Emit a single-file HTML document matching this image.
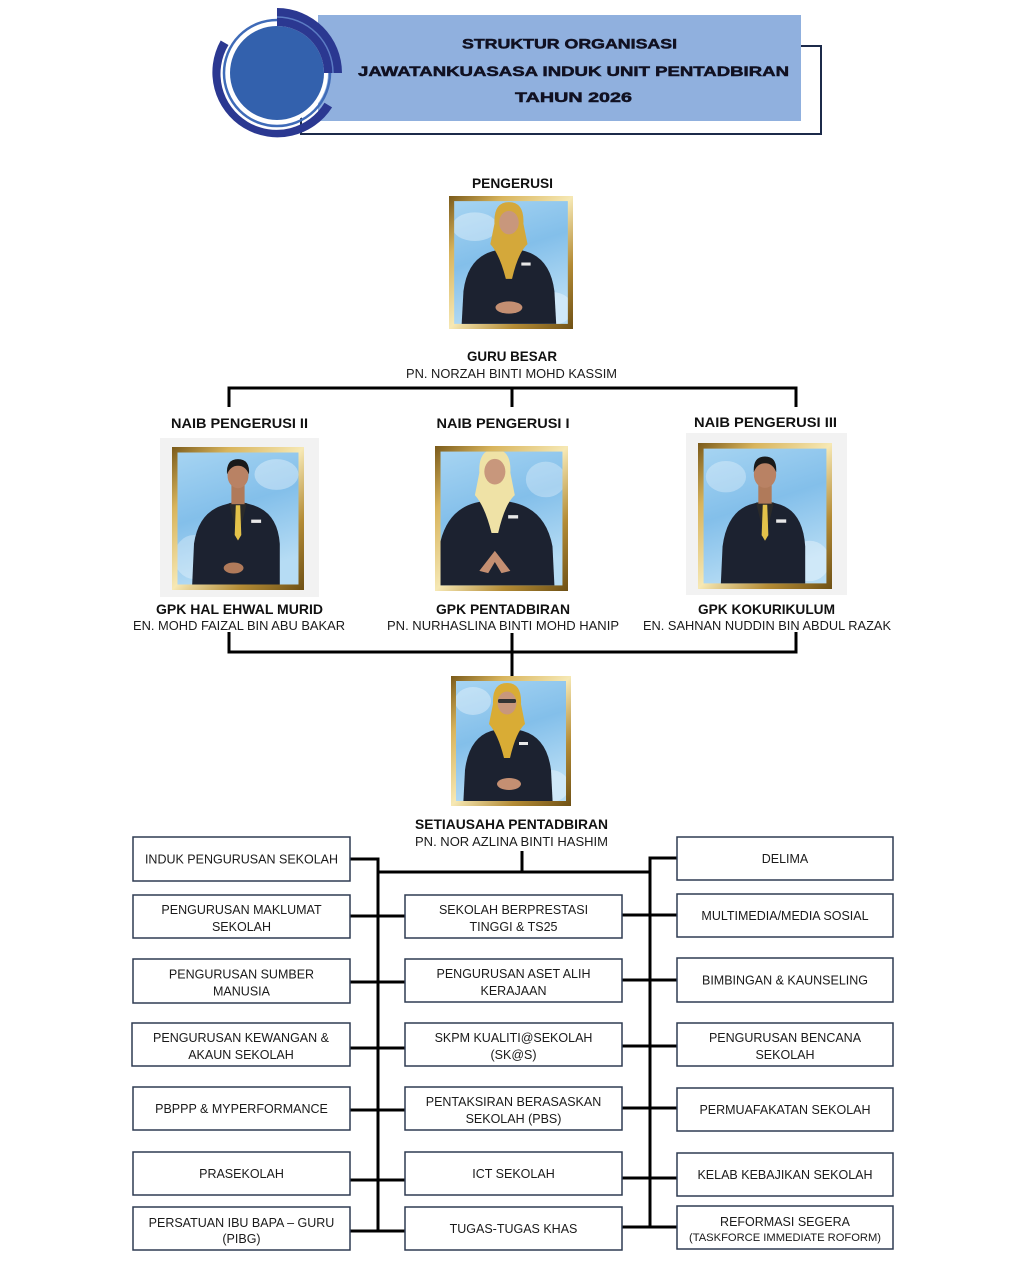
<!DOCTYPE html>
<html><head><meta charset="utf-8">
<style>html,body{margin:0;padding:0;background:#fff;}svg{display:block}</style>
</head><body>
<svg width="1024" height="1286" viewBox="0 0 1024 1286" xmlns="http://www.w3.org/2000/svg" font-family="'Liberation Sans', Arial, sans-serif">
<defs>
<linearGradient id="gold" x1="0" y1="0" x2="1" y2="1">
<stop offset="0" stop-color="#7a5a1a"/><stop offset="0.22" stop-color="#d8b45c"/><stop offset="0.5" stop-color="#f6e8b4"/><stop offset="0.75" stop-color="#b38b35"/><stop offset="1" stop-color="#6e5015"/>
</linearGradient>
<linearGradient id="sky" x1="0" y1="0" x2="0.3" y2="1">
<stop offset="0" stop-color="#a6d4f2"/><stop offset="0.5" stop-color="#83bfea"/><stop offset="1" stop-color="#b6dcf4"/>
</linearGradient>
<clipPath id="inner"><rect x="5" y="5" width="110" height="120"/></clipPath>
</defs>

<!-- HEADER -->
<rect x="301" y="46" width="520" height="88" fill="none" stroke="#1c2a4a" stroke-width="2"/>
<rect x="318" y="15" width="483" height="106" fill="#90b0de"/>
<circle cx="277" cy="73" r="51" fill="#fff"/>
<circle cx="277" cy="73" r="53" fill="none" stroke="#3f6bb8" stroke-width="2.5"/>
<circle cx="277" cy="73" r="47" fill="#3361ad"/>
<path d="M277 8 A65 65 0 0 1 342 73 L324 73 A47 47 0 0 0 277 26 Z" fill="#2b3891"/>
<path d="M277 17 A56 56 0 0 1 333 73" fill="none" stroke="#5c7cc4" stroke-width="1.5"/>
<path d="M332.1 107.4 A65 65 0 0 1 220.7 40.5 L228.5 45 A56 56 0 0 0 324.5 102.7 Z" fill="#2b3891"/>
<g font-weight="bold" font-size="14" fill="#111122" stroke="#111122" stroke-width="0.5">
<text x="462" y="48.5" textLength="215" lengthAdjust="spacingAndGlyphs">STRUKTUR ORGANISASI</text>
<text x="358" y="76" textLength="431" lengthAdjust="spacingAndGlyphs">JAWATANKUASASA INDUK UNIT PENTADBIRAN</text>
<text x="515" y="102" textLength="117" lengthAdjust="spacingAndGlyphs">TAHUN 2026</text>
</g>

<!-- CONNECTORS TOP -->
<g stroke="#000" stroke-width="3" fill="none">
<path d="M229 407 L229 388 L796 388 L796 407"/>
<path d="M512 388 L512 407"/>
<path d="M229 632 L229 652 L796 652 L796 632"/>
<path d="M512 633 L512 676"/>
<path d="M522 851 L522 872"/>
<path d="M378 872 L650 872"/>
<path d="M350 859 L378 859 L378 1232.5"/>
<path d="M677 858 L650 858 L650 1228.5"/>
<path d="M350 916 L405 916"/>
<path d="M350 982 L405 982"/>
<path d="M350 1048 L405 1048"/>
<path d="M350 1110 L405 1110"/>
<path d="M350 1180 L405 1180"/>
<path d="M350 1231 L405 1231"/>
<path d="M622 915 L677 915"/>
<path d="M622 980 L677 980"/>
<path d="M622 1046 L677 1046"/>
<path d="M622 1108 L677 1108"/>
<path d="M622 1178 L677 1178"/>
<path d="M622 1227 L677 1227"/>
</g>

<!-- HEADINGS -->
<g font-weight="bold" font-size="14" fill="#111" text-anchor="middle">
<text x="512.5" y="188" textLength="81" lengthAdjust="spacingAndGlyphs">PENGERUSI</text>
<text x="512" y="361" textLength="90" lengthAdjust="spacingAndGlyphs">GURU BESAR</text>
<text x="239.5" y="428" textLength="137" lengthAdjust="spacingAndGlyphs">NAIB PENGERUSI II</text>
<text x="503" y="428" textLength="133" lengthAdjust="spacingAndGlyphs">NAIB PENGERUSI I</text>
<text x="765.5" y="427" textLength="143" lengthAdjust="spacingAndGlyphs">NAIB PENGERUSI III</text>
<text x="239.5" y="614" textLength="167" lengthAdjust="spacingAndGlyphs">GPK HAL EHWAL MURID</text>
<text x="503" y="614" textLength="134" lengthAdjust="spacingAndGlyphs">GPK PENTADBIRAN</text>
<text x="766.5" y="614" textLength="137" lengthAdjust="spacingAndGlyphs">GPK KOKURIKULUM</text>
<text x="511.5" y="829" textLength="193" lengthAdjust="spacingAndGlyphs">SETIAUSAHA PENTADBIRAN</text>
</g>
<g font-size="13" fill="#1a1a1a" text-anchor="middle">
<text x="511.5" y="378" textLength="211" lengthAdjust="spacingAndGlyphs">PN. NORZAH BINTI MOHD KASSIM</text>
<text x="239" y="630" textLength="212" lengthAdjust="spacingAndGlyphs">EN. MOHD FAIZAL BIN ABU BAKAR</text>
<text x="503" y="630" textLength="232" lengthAdjust="spacingAndGlyphs">PN. NURHASLINA BINTI MOHD HANIP</text>
<text x="767" y="630" textLength="248" lengthAdjust="spacingAndGlyphs">EN. SAHNAN NUDDIN BIN ABDUL RAZAK</text>
<text x="511.5" y="846" textLength="193" lengthAdjust="spacingAndGlyphs">PN. NOR AZLINA BINTI HASHIM</text>
</g>

<!-- PHOTO BACKGROUNDS -->
<rect x="160" y="438" width="159" height="159" fill="#f2f2f2"/>
<rect x="686" y="433" width="161" height="162" fill="#f2f2f2"/>

<!-- PHOTO 1 : PENGERUSI -->
<svg x="449" y="196" width="124" height="133" viewBox="0 0 120 130" preserveAspectRatio="none">
<rect x="0" y="0" width="120" height="130" fill="url(#gold)"/>
<rect x="5" y="5" width="110" height="120" fill="url(#sky)"/>
<g clip-path="url(#inner)">
<ellipse cx="25" cy="30" rx="22" ry="14" fill="#fff" opacity="0.35"/>
<ellipse cx="100" cy="110" rx="20" ry="16" fill="#fff" opacity="0.35"/>
<g transform="translate(0,-3)">
<path d="M12 133 L14 96 Q18 64 42 57 L58 53 L74 57 Q98 64 102 96 L104 133 Z" fill="#1c2230"/>
<path d="M44 30 Q43 9 58 9 Q73 9 72 30 L76 50 Q67 58 61 84 L55 84 Q49 60 40 50 Z" fill="#d4a83a"/>
<ellipse cx="58" cy="29" rx="9.5" ry="11.5" fill="#c8977c"/>
<rect x="70" y="68" width="9" height="3" fill="#e8e8e8"/>
<ellipse cx="58" cy="112" rx="13" ry="6" fill="#c48f72"/>
</g></g>
</svg>

<!-- PHOTO 2 : LEFT MAN -->
<svg x="172" y="447" width="132" height="143" viewBox="0 0 120 130" preserveAspectRatio="none">
<rect x="0" y="0" width="120" height="130" fill="url(#gold)"/>
<rect x="5" y="5" width="110" height="120" fill="url(#sky)"/>
<g clip-path="url(#inner)">
<ellipse cx="95" cy="25" rx="20" ry="14" fill="#fff" opacity="0.35"/>
<ellipse cx="20" cy="100" rx="18" ry="20" fill="#fff" opacity="0.3"/>
<g transform="translate(0,-2)">
<path d="M18 135 L20 90 Q24 62 46 55 L60 51 L74 55 Q96 62 98 90 L98 135 Z" fill="#1c2230"/>
<path d="M52 53 L60 86 L68 53 Z" fill="#2a2a2a"/>
<rect x="54" y="36" width="12" height="18" fill="#b07a5a"/>
<path d="M58 55 L62 55 L63 82 L60 87 L57 82 Z" fill="#e3c24a"/>
<ellipse cx="60" cy="28" rx="9.5" ry="11.5" fill="#b98264"/>
<path d="M50 27 Q49 13 60 13 Q71 13 70 27 Q67 19 60 19 Q53 19 50 27 Z" fill="#1a1a1a"/>
<rect x="72" y="68" width="9" height="3" fill="#e8e8e8"/>
<ellipse cx="56" cy="112" rx="9" ry="5" fill="#b07a5a"/>
</g></g>
</svg>

<!-- PHOTO 3 : MIDDLE WOMAN -->
<svg x="435" y="446" width="133" height="145" viewBox="0 0 120 130" preserveAspectRatio="none">
<rect x="0" y="0" width="120" height="130" fill="url(#gold)"/>
<rect x="5" y="5" width="110" height="120" fill="url(#sky)"/>
<g clip-path="url(#inner)">
<ellipse cx="100" cy="30" rx="18" ry="16" fill="#fff" opacity="0.3"/>
<ellipse cx="15" cy="110" rx="16" ry="16" fill="#fff" opacity="0.35"/>
<g transform="translate(-4,-6)">
<path d="M6 136 L8 96 Q14 64 40 57 L58 53 L76 57 Q104 64 110 96 L112 136 Z" fill="#1c2230"/>
<path d="M44 30 Q43 9 58 9 Q73 9 72 30 L76 50 Q67 58 61 84 L55 84 Q49 60 40 50 Z" fill="#efe2a6"/>
<ellipse cx="58" cy="29" rx="9.5" ry="11.5" fill="#c8977c"/>
<rect x="70" y="68" width="9" height="3" fill="#e8e8e8"/>
<path d="M44 118 L58 100 L72 118 L64 120 L58 110 L52 120 Z" fill="#c48f72"/>
</g></g>
</svg>

<!-- PHOTO 4 : RIGHT MAN -->
<svg x="698" y="443" width="134" height="146" viewBox="0 0 120 130" preserveAspectRatio="none">
<rect x="0" y="0" width="120" height="130" fill="url(#gold)"/>
<rect x="5" y="5" width="110" height="120" fill="url(#sky)"/>
<g clip-path="url(#inner)">
<ellipse cx="25" cy="30" rx="18" ry="14" fill="#fff" opacity="0.3"/>
<ellipse cx="100" cy="105" rx="18" ry="18" fill="#fff" opacity="0.35"/>
<g transform="translate(0,0)">
<path d="M20 135 L22 92 Q26 62 46 55 L60 51 L74 55 Q94 62 96 92 L96 135 Z" fill="#1c2230"/>
<path d="M52 53 L60 86 L68 53 Z" fill="#2a2a2a"/>
<rect x="54" y="36" width="12" height="18" fill="#b07a5a"/>
<path d="M58 55 L62 55 L63 82 L60 87 L57 82 Z" fill="#e3c24a"/>
<ellipse cx="60" cy="28" rx="10" ry="12" fill="#b98264"/>
<path d="M50 26 Q49 12 60 12 Q71 12 70 26 Q67 18 60 18 Q53 18 50 26 Z" fill="#1a1a1a"/>
<rect x="70" y="68" width="9" height="3" fill="#e8e8e8"/>
</g></g>
</svg>

<!-- PHOTO 5 : SETIAUSAHA -->
<svg x="451" y="676" width="120" height="130" viewBox="0 0 120 130" preserveAspectRatio="none">
<rect x="0" y="0" width="120" height="130" fill="url(#gold)"/>
<rect x="5" y="5" width="110" height="120" fill="url(#sky)"/>
<g clip-path="url(#inner)">
<ellipse cx="22" cy="25" rx="18" ry="14" fill="#fff" opacity="0.35"/>
<ellipse cx="100" cy="110" rx="18" ry="16" fill="#fff" opacity="0.35"/>
<g transform="translate(-2,-2)">
<path d="M14 135 L16 96 Q20 64 42 57 L58 53 L74 57 Q98 64 102 96 L104 135 Z" fill="#1c2230"/>
<path d="M44 30 Q43 9 58 9 Q73 9 72 30 L76 50 Q67 58 61 84 L55 84 Q49 60 40 50 Z" fill="#d9ac35"/>
<ellipse cx="58" cy="29" rx="9.5" ry="11.5" fill="#c8977c"/>
<rect x="49" y="25" width="18" height="4" rx="1.5" fill="#333"/>
<rect x="70" y="68" width="9" height="3" fill="#e8e8e8"/>
<ellipse cx="60" cy="110" rx="12" ry="6" fill="#c48f72"/>
</g></g>
</svg>

<!-- BOXES -->
<g fill="#fff" stroke="#2f3b52" stroke-width="1.5">
<rect x="133" y="837" width="217" height="44"/>
<rect x="133" y="895" width="217" height="43"/>
<rect x="133" y="959" width="217" height="44"/>
<rect x="132" y="1023" width="218" height="43"/>
<rect x="133" y="1087" width="217" height="43"/>
<rect x="133" y="1152" width="217" height="43"/>
<rect x="133" y="1207" width="217" height="43"/>
<rect x="405" y="895" width="217" height="43"/>
<rect x="405" y="959" width="217" height="43"/>
<rect x="405" y="1023" width="217" height="43"/>
<rect x="405" y="1087" width="217" height="43"/>
<rect x="405" y="1152" width="217" height="43"/>
<rect x="405" y="1207" width="217" height="43"/>
<rect x="677" y="837" width="216" height="43"/>
<rect x="677" y="894" width="216" height="43"/>
<rect x="677" y="958" width="216" height="44"/>
<rect x="677" y="1023" width="216" height="43"/>
<rect x="677" y="1088" width="216" height="43"/>
<rect x="677" y="1153" width="216" height="43"/>
<rect x="677" y="1206" width="216" height="43"/>
</g>

<g font-size="12.5" fill="#1a1a1a" text-anchor="middle">
<text x="241.5" y="863.5">INDUK PENGURUSAN SEKOLAH</text>
<text x="241.5" y="914">PENGURUSAN MAKLUMAT</text>
<text x="241.5" y="931">SEKOLAH</text>
<text x="241.5" y="978.5">PENGURUSAN SUMBER</text>
<text x="241.5" y="995.5">MANUSIA</text>
<text x="241" y="1042">PENGURUSAN KEWANGAN &amp;</text>
<text x="241" y="1059">AKAUN SEKOLAH</text>
<text x="241.5" y="1113">PBPPP &amp; MYPERFORMANCE</text>
<text x="241.5" y="1178">PRASEKOLAH</text>
<text x="241.5" y="1227">PERSATUAN IBU BAPA – GURU</text>
<text x="241.5" y="1243">(PIBG)</text>

<text x="513.5" y="914">SEKOLAH BERPRESTASI</text>
<text x="513.5" y="931">TINGGI &amp; TS25</text>
<text x="513.5" y="978">PENGURUSAN ASET ALIH</text>
<text x="513.5" y="995">KERAJAAN</text>
<text x="513.5" y="1042">SKPM KUALITI@SEKOLAH</text>
<text x="513.5" y="1059">(SK@S)</text>
<text x="513.5" y="1106">PENTAKSIRAN BERASASKAN</text>
<text x="513.5" y="1123">SEKOLAH (PBS)</text>
<text x="513.5" y="1178">ICT SEKOLAH</text>
<text x="513.5" y="1233">TUGAS-TUGAS KHAS</text>

<text x="785" y="863">DELIMA</text>
<text x="785" y="920">MULTIMEDIA/MEDIA SOSIAL</text>
<text x="785" y="984.5">BIMBINGAN &amp; KAUNSELING</text>
<text x="785" y="1042">PENGURUSAN BENCANA</text>
<text x="785" y="1059">SEKOLAH</text>
<text x="785" y="1114">PERMUAFAKATAN SEKOLAH</text>
<text x="785" y="1179">KELAB KEBAJIKAN SEKOLAH</text>
<text x="785" y="1226">REFORMASI SEGERA</text>
<text x="785" y="1241" font-size="11" textLength="192" lengthAdjust="spacingAndGlyphs">(TASKFORCE IMMEDIATE ROFORM)</text>
</g>
</svg>
</body></html>
